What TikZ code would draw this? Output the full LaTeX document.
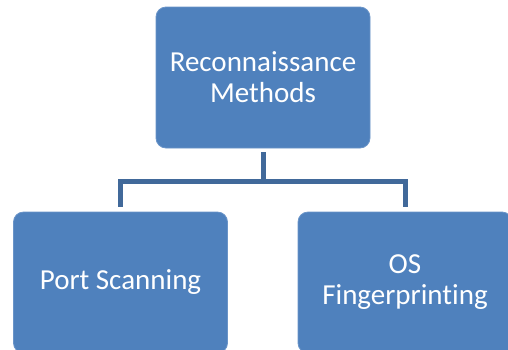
\documentclass[tikz,border=0pt]{standalone}
\usepackage{fontspec}
\setmainfont{Carlito}[Ligatures=NoCommon]
\usetikzlibrary{positioning}
\definecolor{boxblue}{HTML}{4F81BD}
\definecolor{boxedge}{HTML}{6A94C8}
\definecolor{linkblue}{HTML}{41699A}

\begin{document}
\begin{tikzpicture}[x=1pt, y=-1pt,
  block/.style={draw=boxedge, fill=boxblue, line width=0.8pt, rounded corners=10pt,
    minimum width=214pt, minimum height=141pt, text=white, align=center,
    font=\fontsize{29}{31}\selectfont},
  link/.style={draw=linkblue, line width=5pt, shorten <=5pt, shorten >=5pt}]

\useasboundingbox (0,0) rectangle (508,349);
\clip (0,0) rectangle (508,349);

% top level
\node [block] (recon) at (263,77.5) {Reconnaissance\\Methods};

% next level
\node [block] (port) at (120.5,282.5) {Port Scanning};
\node [block] (os)   at (405,282.5)   {OS\\Fingerprinting};

% connectors
\coordinate (bus) at (263,181);
\path [link, shorten <=4pt, shorten >=0pt] (recon.south) -- (bus);
\path [link] (port.north) -- (port.north |- bus) -- (os.north |- bus) -- (os.north);

\end{tikzpicture}
\end{document}
